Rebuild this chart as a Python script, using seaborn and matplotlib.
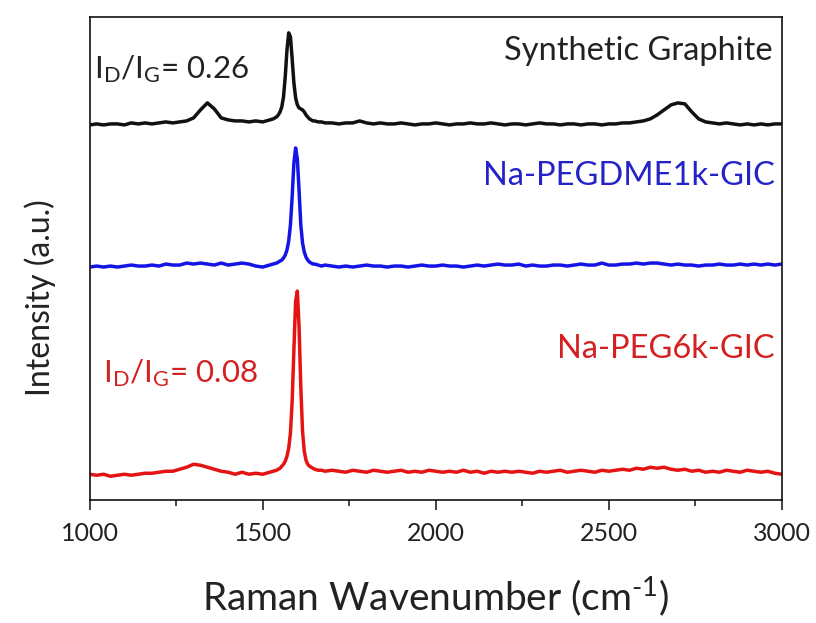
import matplotlib
matplotlib.use("Agg")
import matplotlib.pyplot as plt
import matplotlib.ticker as mticker
import numpy as np
import pandas as pd
import seaborn as sns

# Raman shift grid (cm-1), denser around the G band
wavenumber = [1000, 1020, 1040, 1060, 1080, 1100, 1120, 1140, 1160, 1180,
              1200, 1220, 1240, 1260, 1280, 1300, 1320, 1340, 1360, 1380,
              1400, 1420, 1440, 1460, 1480, 1500, 1520, 1530, 1540, 1545,
              1550, 1555, 1560, 1565, 1570, 1575, 1580, 1585, 1590, 1595,
              1600, 1605, 1610, 1615, 1620, 1625, 1630, 1635, 1640, 1645,
              1650, 1660, 1670, 1680, 1700, 1720, 1740, 1760, 1780, 1800,
              1820, 1840, 1860, 1880, 1900, 1920, 1940, 1960, 1980, 2000,
              2020, 2040, 2060, 2080, 2100, 2120, 2140, 2160, 2180, 2200,
              2220, 2240, 2260, 2280, 2300, 2320, 2340, 2360, 2380, 2400,
              2420, 2440, 2460, 2480, 2500, 2520, 2540, 2560, 2580, 2600,
              2620, 2640, 2660, 2680, 2700, 2720, 2740, 2760, 2780, 2800,
              2820, 2840, 2860, 2880, 2900, 2920, 2940, 2960, 2980, 3000]

# intensities (a.u.), each spectrum relative to its own baseline
graphite = [0, 1, 0, 1, 1, 0, 2, 1, 2, 1,
            2, 3, 2, 3, 4, 7, 15, 22, 16, 7,
            5, 4, 4, 3, 4, 3, 5, 6, 8, 10,
            13, 18, 28, 48, 75, 92, 88, 66, 42, 27,
            20, 17, 16, 15, 13, 10, 8, 6, 5, 4,
            4, 3, 3, 2, 2, 1, 2, 2, 4, 2,
            1, 2, 1, 1, 2, 1, 0, 1, 1, 2,
            1, 0, 1, 1, 2, 1, 1, 2, 1, 0,
            1, 1, 0, 1, 2, 1, 1, 0, 1, 1,
            0, 1, 1, 0, 1, 1, 2, 2, 3, 4,
            6, 10, 15, 20, 22, 21, 13, 6, 3, 2,
            1, 2, 1, 0, 1, 0, 1, 0, 1, 1]

pegdme = [0, 1, 0, 1, 0, 1, 2, 1, 1, 2,
          1, 3, 2, 2, 4, 3, 4, 3, 2, 4,
          2, 3, 4, 3, 1, 0, 2, 3, 4, 5,
          6, 7, 9, 12, 17, 26, 42, 70, 104, 119,
          108, 76, 42, 24, 15, 10, 7, 5, 4, 3,
          3, 2, 1, 2, 1, 0, 1, 0, 1, 2,
          1, 1, 0, 1, 1, 0, 1, 2, 1, 1,
          2, 1, 1, 0, 1, 2, 1, 2, 3, 2,
          2, 3, 1, 2, 1, 1, 2, 2, 1, 2,
          3, 2, 2, 4, 2, 2, 3, 3, 4, 3,
          4, 4, 3, 2, 3, 2, 2, 1, 2, 2,
          3, 2, 2, 3, 2, 3, 2, 3, 2, 3]

peg6k = [1, 0, 1, -1, 0, 1, 0, 1, 2, 2,
         3, 4, 4, 6, 8, 11, 10, 8, 6, 4,
         3, 1, 3, 1, 2, 1, 3, 4, 5, 6,
         7, 9, 11, 14, 19, 27, 42, 74, 125, 174,
         184, 148, 88, 44, 24, 15, 11, 9, 8, 7,
         6, 5, 5, 4, 5, 4, 3, 5, 4, 3,
         5, 4, 3, 4, 5, 3, 4, 3, 5, 4,
         3, 4, 3, 5, 3, 4, 2, 4, 3, 4,
         3, 4, 3, 2, 4, 3, 4, 5, 3, 4,
         5, 4, 3, 5, 4, 5, 6, 5, 7, 6,
         8, 7, 8, 6, 5, 6, 4, 5, 3, 4,
         3, 5, 4, 3, 5, 4, 3, 4, 2, 1]

samples = ["Synthetic Graphite", "Na-PEGDME1k-GIC", "Na-PEG6k-GIC"]
offsets = [375, 233, 25]
colors = ["#111111", "#1414e6", "#e41414"]
text_colors = ["#222222", "#2323c8", "#d42020"]

frames = []
for name, vals, off in zip(samples, [graphite, pegdme, peg6k], offsets):
    assert len(vals) == len(wavenumber)
    frames.append(pd.DataFrame({
        "wavenumber": wavenumber,
        "intensity": np.array(vals) + off,
        "sample": name,
    }))
df = pd.concat(frames, ignore_index=True)

sns.set_theme(style="ticks")
plt.rcParams["font.family"] = ["Lato", "DejaVu Sans"]
plt.rcParams["mathtext.fontset"] = "custom"
plt.rcParams["mathtext.rm"] = "Lato"
plt.rcParams["mathtext.it"] = "Lato"

fig = plt.figure(figsize=(8.16, 6.23), dpi=100)
ax = fig.add_axes([0.110, 0.197, 0.848, 0.776])

sns.lineplot(data=df, x="wavenumber", y="intensity", hue="sample",
             palette=dict(zip(samples, colors)), estimator=None, sort=False,
             linewidth=2.5, legend=False, ax=ax)

ax.set_xlim(1000, 3000)
ax.set_ylim(0, 483)
ax.set_yticks([])
ax.xaxis.set_major_locator(mticker.MultipleLocator(500))
ax.xaxis.set_minor_locator(mticker.MultipleLocator(250))
ax.tick_params(axis="x", which="major", direction="out", length=7, width=1.2,
               labelsize=18, pad=9, colors="#222222")
ax.tick_params(axis="x", which="minor", direction="out", length=4, width=1.2)
for sp in ax.spines.values():
    sp.set_visible(True)
    sp.set_linewidth(1.2)
    sp.set_color("#111111")

ax.set_xlabel(r"Raman Wavenumber (cm$^{\text{-1}}$)", fontsize=28,
              labelpad=21, color="#222222")
ax.set_ylabel("Intensity (a.u.)", fontsize=23, color="#222222")
ax.yaxis.set_label_coords(-0.049, 0.42)

# sample labels
ax.text(2975, 440, samples[0], ha="right", va="baseline", fontsize=23.5,
        color=text_colors[0])
ax.text(2980, 315, samples[1], ha="right", va="baseline", fontsize=23.5,
        color=text_colors[1])
ax.text(2980, 142, samples[2], ha="right", va="baseline", fontsize=23.5,
        color=text_colors[2])

# D/G intensity ratios
ax.text(1012, 422, r"$\mathregular{I_D/I_G}$= 0.26", ha="left", va="baseline",
        fontsize=22.5, color=text_colors[0])
ax.text(1038, 118, r"$\mathregular{I_D/I_G}$= 0.08", ha="left", va="baseline",
        fontsize=22.5, color=text_colors[2])

fig.savefig("out.png", dpi=100)
plt.close(fig)
